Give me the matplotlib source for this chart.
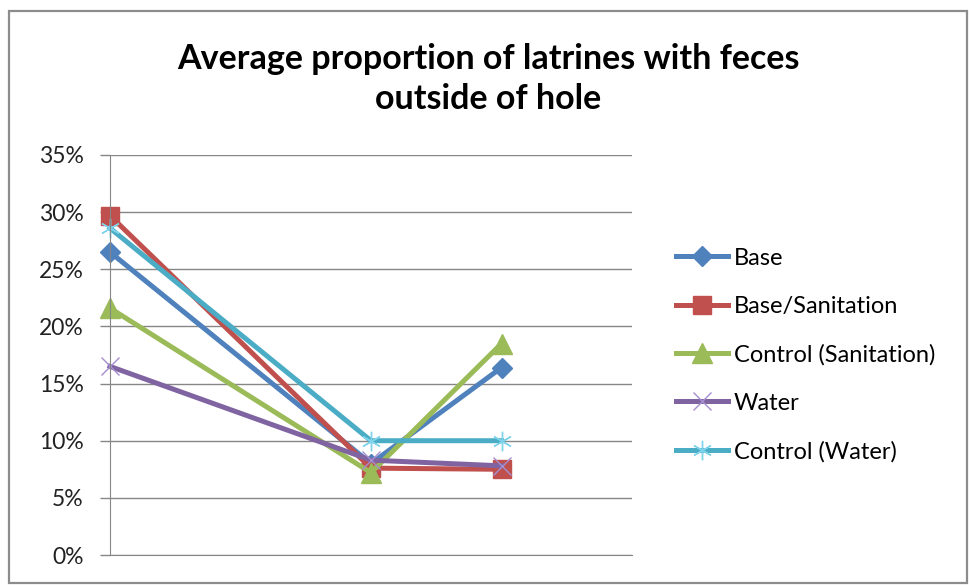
import matplotlib.pyplot as plt
from matplotlib.patches import Rectangle

# data (categories 1 and 4 are empty in the source sheet)
x_pos = [0, 2, 3]
base = [0.265, 0.080, 0.164]
base_sanitation = [0.297, 0.076, 0.075]
control_sanitation = [0.216, 0.072, 0.185]
water = [0.165, 0.083, 0.078]
control_water = [0.286, 0.100, 0.100]

series = [base, base_sanitation, control_sanitation, water, control_water]
labels = ["Base", "Base/Sanitation", "Control (Sanitation)", "Water", "Control (Water)"]
colors = ["#4F81BD", "#C0504D", "#9BBB59", "#8064A2", "#4BACC6"]
markers = ["D", "s", "^", "x", (6, 2, 0)]
msizes = [10, 13, 14, 13, 14]
y_ticks = [0, 0.05, 0.10, 0.15, 0.20, 0.25, 0.30, 0.35]

plt.rcParams["font.family"] = ["Lato", "DejaVu Sans"]

fig = plt.figure(figsize=(9.69, 5.85), dpi=100)
ax = fig.add_axes([110 / 969, 30 / 585, 522 / 969, 400 / 585])

for k, ys in enumerate(series):
    if k == 3:
        ax.plot(x_pos, ys, color=colors[k], linewidth=3.6, label=labels[k],
                marker=markers[k], markersize=msizes[k], markeredgewidth=1.0,
                markeredgecolor="#A58ED0", clip_on=False)
    elif k == 4:
        ax.plot(x_pos, ys, color=colors[k], linewidth=3.6, label=labels[k],
                marker=markers[k], markersize=msizes[k], markeredgewidth=1.0,
                markeredgecolor="#7FD3EA", clip_on=False)
    else:
        ax.plot(x_pos, ys, color=colors[k], linewidth=3.6, label=labels[k],
                marker=markers[k], markersize=msizes[k], markerfacecolor=colors[k],
                markeredgecolor=colors[k], clip_on=False)

ax.set_xlim(0, 4)
ax.set_ylim(0, 0.35)
ax.set_yticks(y_ticks)
ax.set_yticklabels([f"{int(round(v * 100))}%" for v in y_ticks], fontsize=16.5, color="#222222")
ax.set_xticks([])
ax.yaxis.grid(True, color="#868686", linewidth=1.0)
ax.set_axisbelow(True)
ax.tick_params(axis="y", length=7, width=1.0, color="#868686", pad=12)

for name in ("top", "right"):
    ax.spines[name].set_visible(False)
ax.spines["left"].set_color("#868686")
ax.spines["bottom"].set_color("#868686")

fig.suptitle("Average proportion of latrines with feces\noutside of hole",
             x=488 / 969, y=0.926, fontsize=24.5, fontweight="bold", linespacing=1.3)

handles, lbls = ax.get_legend_handles_labels()
fig.legend(handles, lbls, loc="center left", bbox_to_anchor=(655 / 969, 1 - 355 / 585),
           frameon=False, fontsize=17, labelspacing=1.15, handlelength=2.2,
           handletextpad=0.25)

# outer chart border
fig.patches.append(Rectangle((9 / 969, 2 / 585), 958 / 969, 572 / 585,
                             transform=fig.transFigure, fill=False,
                             edgecolor="#8C8C8C", linewidth=1.6))

fig.savefig("out.png", dpi=100)
